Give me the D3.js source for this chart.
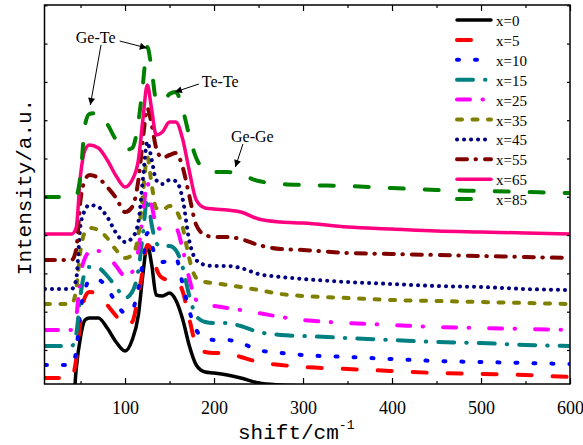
<!DOCTYPE html>
<html>
<head>
<meta charset="utf-8">
<script src="https://cdn.jsdelivr.net/npm/d3@7"></script>
<style>
body { margin: 0; background: #fff; }
svg { display: block; }
</style>
</head>
<body>
<svg id="chart" width="583" height="445"></svg>
<script>
// raman shift grid (cm-1), shared by every spectrum
var shifts = [10, 40, 45, 50, 55, 60, 70, 80, 90, 100, 108, 115, 120, 125, 130, 135, 142, 150, 157, 165, 172, 180, 190, 200, 215, 230, 250, 275, 300, 350, 400, 450, 500, 550, 600];

// stacked intensities (a.u., offset per sample)
var int_x0  = [-56, -46, 14, 47, 64, 66, 66, 56, 42, 33, 44, 69, 109, 139, 119, 89, 88, 91, 84, 64, 39, 19, 12, 11, 9, 6, 1, -1, -2, -6, -8, -8, -8, -8, -8];
var int_x5  = [6, 6, 24, 64, 87, 92, 89, 79, 68, 58, 62, 89, 114, 139, 134, 116, 106, 104, 104, 92, 66, 39, 32, 31, 31, 27, 22, 19, 17, 15, 13, 11, 10, 9, 7];
var int_x10 = [19, 19, 32, 74, 94, 104, 104, 96, 81, 71, 74, 96, 122, 151, 139, 126, 122, 124, 126, 99, 74, 54, 46, 44, 44, 41, 34, 31, 29, 27, 25, 23, 22, 21, 20];
var int_x15 = [38, 38, 49, 89, 112, 117, 116, 108, 97, 86, 92, 114, 149, 186, 159, 141, 137, 138, 134, 116, 89, 68, 62, 61, 61, 58, 52, 49, 48, 46, 44, 42, 41, 39, 38];
var int_x25 = [54, 54, 66, 109, 126, 132, 133, 129, 118, 108, 112, 134, 169, 201, 179, 159, 154, 156, 156, 134, 106, 84, 79, 78, 76, 74, 71, 67, 64, 61, 59, 57, 56, 55, 54];
var int_x35 = [80, 80, 94, 134, 152, 156, 154, 146, 134, 126, 129, 149, 189, 227, 199, 176, 174, 178, 174, 156, 126, 106, 102, 101, 99, 97, 94, 90, 88, 86, 84, 83, 82, 81, 80];
var int_x45 = [95, 95, 104, 159, 174, 179, 177, 167, 151, 142, 146, 162, 204, 242, 224, 204, 200, 204, 203, 184, 144, 124, 119, 118, 118, 116, 110, 107, 105, 102, 100, 98, 97, 95, 94];
var int_x55 = [124, 124, 134, 184, 204, 209, 206, 197, 186, 172, 177, 204, 244, 276, 259, 236, 226, 229, 231, 216, 189, 159, 149, 147, 147, 145, 139, 135, 134, 131, 130, 129, 128, 127, 126];
var int_x65 = [150, 150, 156, 209, 234, 239, 236, 224, 208, 197, 204, 224, 264, 299, 274, 249, 252, 262, 262, 244, 214, 184, 176, 175, 174, 172, 165, 162, 161, 157, 155, 153, 152, 151, 150];
var int_x85 = [187, 187, 188, 209, 259, 270, 271, 260, 244, 234, 236, 262, 299, 337, 314, 284, 282, 290, 292, 274, 249, 226, 214, 212, 212, 209, 203, 200, 199, 198, 196, 194, 193, 192, 191];

var names = ['x=0', 'x=5', 'x=10', 'x=15', 'x=25', 'x=35', 'x=45', 'x=55', 'x=65', 'x=85'];
var spectra = [int_x0, int_x5, int_x10, int_x15, int_x25, int_x35, int_x45, int_x55, int_x65, int_x85];

var xTicks = [100, 200, 300, 400, 500, 600];
var xMinor = [50, 150, 250, 350, 450, 550];

// peak labels: text position and arrow (from -> to), in data units
var peakLabels = [
  {t: 'Ge-Te', x: 67, y: 341},
  {t: 'Te-Te', x: 207, y: 297},
  {t: 'Ge-Ge', x: 243, y: 242}
];
var peakArrows = [
  [94, 343, 124.5, 336],
  [73, 339, 61, 279],
  [183, 300, 156, 292],
  [232.5, 240, 224, 217]
];

// styles
var colors = ['#000000', '#ff0000', '#0000ff', '#008080', '#ff00ff', '#808000', '#000080', '#800000', '#ff0080', '#008000'];
var dashes = [null, '14 21', '2 16', '16 12 0.5 12', '13 12.5 0.5 20', '5 10.5', '0.1 6.9', '10 8.5 0.5 9', null, '14 21'];
var widths = [3.5, 4, 4, 4, 4, 4, 4, 4, 3.5, 4];

var m = {l: 44.5, r: 570, t: 5, b: 384};

var svg = d3.select('#chart');

var x = d3.scaleLinear().domain([9.5, 600]).range([m.l, m.r]);
var y = d3.scaleLinear().domain([0, 379]).range([m.b, m.t]);
var yTicks = d3.range(34, 379, 38.3);

var defs = svg.append('defs');
defs.append('clipPath').attr('id', 'plotclip')
  .append('rect')
  .attr('x', m.l).attr('y', m.t)
  .attr('width', m.r - m.l).attr('height', m.b - m.t);

var marker = defs.append('marker')
  .attr('id', 'arrowhead')
  .attr('viewBox', '0 0 10 10')
  .attr('refX', 10).attr('refY', 5)
  .attr('markerUnits', 'userSpaceOnUse')
  .attr('markerWidth', 9).attr('markerHeight', 7)
  .attr('orient', 'auto');
marker.append('path').attr('d', 'M0,0 L10,5 L0,10 z').attr('fill', '#000');

// spectra
var line = d3.line()
  .x(function(d) { return x(d[0]); })
  .y(function(d) { return y(d[1]); })
  .curve(d3.curveMonotoneX);

var plot = svg.append('g').attr('clip-path', 'url(#plotclip)');
spectra.forEach(function(s, i) {
  var pts = shifts.map(function(v, j) { return [v, s[j]]; });
  plot.append('path')
    .attr('d', line(pts))
    .attr('fill', 'none')
    .attr('stroke', colors[i])
    .attr('stroke-width', widths[i])
    .attr('stroke-linecap', 'round')
    .attr('stroke-linejoin', 'round')
    .attr('stroke-dasharray', dashes[i]);
});

// axes
function styleAxis(g) {
  g.select('.domain').remove();
  g.selectAll('line').attr('stroke', '#000').attr('stroke-width', 1.2);
  g.selectAll('text')
    .attr('font-family', 'Liberation Serif, Times New Roman, serif')
    .attr('font-size', 18)
    .attr('fill', '#000');
}

svg.append('g').attr('transform', 'translate(0,' + m.b + ')')
  .call(d3.axisBottom(x).tickValues(xTicks).tickSize(-6).tickPadding(17).tickFormat(d3.format('d')))
  .call(styleAxis);
svg.append('g').attr('transform', 'translate(0,' + m.b + ')')
  .call(d3.axisBottom(x).tickValues(xMinor).tickSize(-3).tickFormat(''))
  .call(styleAxis);
svg.append('g').attr('transform', 'translate(0,' + m.t + ')')
  .call(d3.axisTop(x).tickValues(xTicks).tickSize(-6).tickFormat(''))
  .call(styleAxis);
svg.append('g').attr('transform', 'translate(0,' + m.t + ')')
  .call(d3.axisTop(x).tickValues(xMinor).tickSize(-3).tickFormat(''))
  .call(styleAxis);
svg.append('g').attr('transform', 'translate(' + m.l + ',0)')
  .call(d3.axisLeft(y).tickValues(yTicks).tickSize(-3).tickFormat(''))
  .call(styleAxis);
svg.append('g').attr('transform', 'translate(' + m.r + ',0)')
  .call(d3.axisRight(y).tickValues(yTicks).tickSize(-3).tickFormat(''))
  .call(styleAxis);

svg.append('rect')
  .attr('x', m.l).attr('y', m.t)
  .attr('width', m.r - m.l).attr('height', m.b - m.t)
  .attr('fill', 'none').attr('stroke', '#000').attr('stroke-width', 1.5);

// axis titles
var xl = svg.append('text')
  .attr('x', 238).attr('y', 439)
  .attr('font-family', 'Liberation Mono, DejaVu Sans Mono, monospace')
  .attr('font-size', 21)
  .attr('fill', '#000')
  .text('shift/cm');
xl.append('tspan').attr('dy', -10).attr('font-size', 13).text('-1');

svg.append('text')
  .attr('transform', 'translate(31,187) rotate(-90)')
  .attr('text-anchor', 'middle')
  .attr('font-family', 'Liberation Mono, DejaVu Sans Mono, monospace')
  .attr('font-size', 21)
  .attr('fill', '#000')
  .text('Intensity/a.u.');

// peak annotations
peakLabels.forEach(function(p) {
  svg.append('text')
    .attr('x', x(p.x)).attr('y', y(p.y))
    .attr('text-anchor', 'middle')
    .attr('font-family', 'Liberation Serif, Times New Roman, serif')
    .attr('font-size', 16)
    .attr('fill', '#000')
    .text(p.t);
});
peakArrows.forEach(function(a) {
  svg.append('line')
    .attr('x1', x(a[0])).attr('y1', y(a[1]))
    .attr('x2', x(a[2])).attr('y2', y(a[3]))
    .attr('stroke', '#000').attr('stroke-width', 1)
    .attr('marker-end', 'url(#arrowhead)');
});

// legend
var leg = svg.append('g');
names.forEach(function(n, i) {
  var ly = 20 + i * 19.9;
  leg.append('line')
    .attr('x1', 457).attr('x2', 491)
    .attr('y1', ly).attr('y2', ly)
    .attr('stroke', colors[i])
    .attr('stroke-width', widths[i])
    .attr('stroke-linecap', 'round')
    .attr('stroke-dasharray', dashes[i]);
  leg.append('text')
    .attr('x', 496).attr('y', ly + 6)
    .attr('font-family', 'Liberation Serif, Times New Roman, serif')
    .attr('font-size', 15)
    .attr('fill', '#000')
    .text(n);
});
</script>
</body>
</html>
